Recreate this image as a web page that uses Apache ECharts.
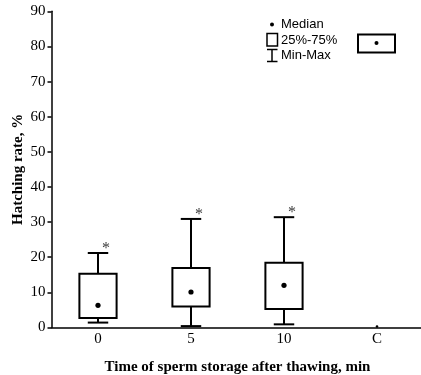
<!DOCTYPE html>
<html><head><meta charset="utf-8">
<script src="https://cdn.jsdelivr.net/npm/echarts@6/dist/echarts.min.js"></script>
<style>html,body{margin:0;padding:0;background:#fff}#c{width:421px;height:375px}</style>
</head><body><div id="c"></div>
<script>
var categories = ['0', '5', '10', 'C'];
var minVals = [1.4, 0.4, 0.9, 0.3];
var q1Vals = [2.7, 6.0, 5.3, 0.3];
var medianVals = [6.3, 10.1, 12.0, 0.3];
var q3Vals = [15.3, 16.9, 18.4, 0.3];
var maxVals = [21.2, 30.9, 31.4, 0.3];
var starCats = ['0', '5', '10'];
var starVals = [21.2, 30.9, 31.4];
var yTicks = [0, 10, 20, 30, 40, 50, 60, 70, 80, 90];

var boxData = categories.map(function (c, i) {
  return [i, minVals[i], q1Vals[i], medianVals[i], q3Vals[i], maxVals[i]];
});

var chart = echarts.init(document.getElementById('c'), null, {renderer: 'canvas'});
var serif = 'Liberation Serif';
var legendFont = '13px "Liberation Sans"';
chart.setOption({
  animation: false,
  backgroundColor: '#fff',
  grid: {left: 51.5, top: 11.3, width: 372, height: 316.2, containLabel: false, outerBoundsMode: 'none'},
  xAxis: {
    type: 'category', data: categories,
    name: 'Time of sperm storage after thawing, min', nameLocation: 'middle', nameGap: 32, nameMoveOverlap: false,
    nameTextStyle: {fontFamily: serif, fontWeight: 'bold', fontSize: 15, color: '#000'},
    axisLine: {lineStyle: {color: '#000', width: 1.5}},
    axisTick: {show: false},
    axisLabel: {fontFamily: serif, fontSize: 15, color: '#000', margin: 4}
  },
  yAxis: {
    type: 'value', min: yTicks[0], max: yTicks[yTicks.length - 1], interval: 10,
    name: 'Hatching rate, %', nameLocation: 'middle', nameGap: 26, nameRotate: 90, nameMoveOverlap: false,
    nameTextStyle: {fontFamily: serif, fontWeight: 'bold', fontSize: 15, color: '#000'},
    axisLine: {show: true, lineStyle: {color: '#000', width: 1.5}},
    axisTick: {show: true, length: 4, lineStyle: {color: '#000', width: 1.5}},
    splitLine: {show: false},
    axisLabel: {fontFamily: serif, fontSize: 15, color: '#000', margin: 6}
  },
  series: [{
    type: 'custom',
    data: boxData,
    encode: {x: 0, y: [1, 2, 3, 4, 5]},
    renderItem: function (params, api) {
      var x = api.value(0);
      var mn = api.coord([x, api.value(1)]);
      var q1 = api.coord([x, api.value(2)]);
      var md = api.coord([x, api.value(3)]);
      var q3 = api.coord([x, api.value(4)]);
      var mx = api.coord([x, api.value(5)]);
      var band = api.size([1, 0])[0];
      var bw = band * 0.4, cw = band * 0.22;
      var cx = mn[0];
      var st = {stroke: '#000', lineWidth: 2, fill: null};
      if (Math.abs(q1[1] - q3[1]) < 0.5) {
        return {type: 'circle', shape: {cx: cx, cy: md[1], r: 1.3}, style: {fill: '#000'}};
      }
      return {type: 'group', children: [
        {type: 'line', shape: {x1: cx, y1: q3[1], x2: cx, y2: mx[1]}, style: st},
        {type: 'line', shape: {x1: cx, y1: q1[1], x2: cx, y2: mn[1]}, style: st},
        {type: 'line', shape: {x1: cx - cw / 2, y1: mx[1], x2: cx + cw / 2, y2: mx[1]}, style: st},
        {type: 'line', shape: {x1: cx - cw / 2, y1: mn[1], x2: cx + cw / 2, y2: mn[1]}, style: st},
        {type: 'rect', shape: {x: cx - bw / 2, y: q3[1], width: bw, height: q1[1] - q3[1]}, style: {stroke: '#000', lineWidth: 2, fill: '#fff'}},
        {type: 'circle', shape: {cx: cx, cy: md[1], r: 2.6}, style: {fill: '#000'}}
      ]};
    }
  }, {
    type: 'scatter',
    data: starCats.map(function (c, i) { return [c, starVals[i]]; }),
    symbolSize: 0,
    label: {show: true, formatter: '*', position: 'inside', offset: [8, -4],
      fontFamily: serif, fontSize: 16, color: '#000'}
  }],
  graphic: [
    {type: 'circle', shape: {cx: 272, cy: 24.5, r: 2}, style: {fill: '#000'}},
    {type: 'text', x: 281, y: 24.5, style: {text: 'Median', font: legendFont, fill: '#000', verticalAlign: 'middle'}},
    {type: 'rect', shape: {x: 267, y: 33.5, width: 10.5, height: 12.5}, style: {stroke: '#000', lineWidth: 1.5, fill: '#fff'}},
    {type: 'text', x: 281, y: 40, style: {text: '25%-75%', font: legendFont, fill: '#000', verticalAlign: 'middle'}},
    {type: 'line', shape: {x1: 272, y1: 49.5, x2: 272, y2: 61.5}, style: {stroke: '#000', lineWidth: 1.5}},
    {type: 'line', shape: {x1: 267, y1: 49.5, x2: 277.5, y2: 49.5}, style: {stroke: '#000', lineWidth: 1.5}},
    {type: 'line', shape: {x1: 267, y1: 61.5, x2: 277.5, y2: 61.5}, style: {stroke: '#000', lineWidth: 1.5}},
    {type: 'text', x: 281, y: 55.5, style: {text: 'Min-Max', font: legendFont, fill: '#000', verticalAlign: 'middle'}},
    {type: 'rect', shape: {x: 358, y: 34.5, width: 37, height: 18}, style: {stroke: '#000', lineWidth: 2, fill: '#fff'}},
    {type: 'circle', shape: {cx: 376.5, cy: 43, r: 2}, style: {fill: '#000'}}
  ]
});
</script></body></html>
